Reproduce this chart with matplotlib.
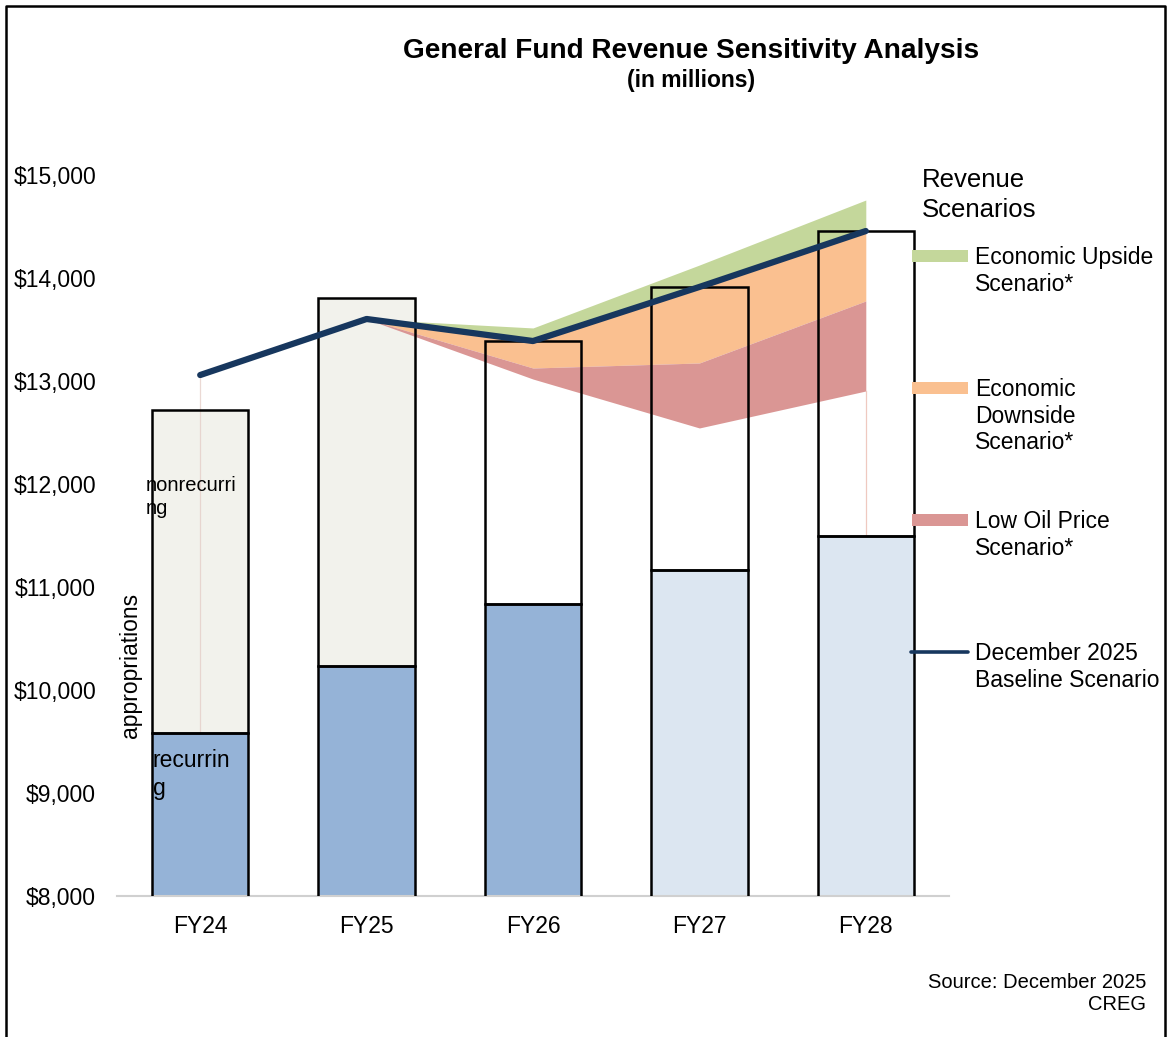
import matplotlib
matplotlib.use("Agg")
import matplotlib.pyplot as plt
from matplotlib.patches import Rectangle
from matplotlib.lines import Line2D

plt.rcParams['font.family'] = ['Liberation Sans', 'DejaVu Sans']

years = ['FY24', 'FY25', 'FY26', 'FY27', 'FY28']
recurring = [9583, 10233, 10835, 11165, 11495]
total = [12718, 13806, 13388, 13913, 14456]
baseline = [13058, 13602, 13388, 13913, 14456]

# scenario bands start at FY25
scen_years = ['FY25', 'FY26', 'FY27', 'FY28']
upside = [13602, 13515, 14126, 14757]
downside = [13602, 13126, 13175, 13777]
low_oil = [13602, 13019, 12544, 12903]

rec_colors = ['#95b3d7', '#95b3d7', '#95b3d7', '#dce6f1', '#dce6f1']
top_colors = ['#f2f2ec', '#f2f2ec', '#ffffff', '#ffffff', '#ffffff']

W, H = 1168, 1037
fig = plt.figure(figsize=(W / 100, H / 100), dpi=100)


def fx(px):
    return px / W


def fy(py):
    return 1 - py / H


ax = fig.add_axes([fx(117), fy(896), fx(949) - fx(117), fy(175) - fy(896)])

x = list(range(len(years)))
xs = [years.index(y) for y in scen_years]
nonrec = [t - r for t, r in zip(total, recurring)]

# bar fills
ax.bar(x, recurring, width=0.58, color=rec_colors, edgecolor='none', zorder=1)
ax.bar(x, nonrec, bottom=recurring, width=0.58, color=top_colors, edgecolor='none', zorder=1)

# scenario bands
ax.fill_between(xs, [baseline[i] for i in xs], upside, color='#c4d79b', lw=0, zorder=2)
ax.fill_between(xs, downside, [baseline[i] for i in xs], color='#fac090', lw=0, zorder=2)
ax.fill_between(xs, low_oil, downside, color='#da9694', lw=0, zorder=2)

# faint drop lines of the area chart
ax.plot([0, 0], [recurring[0], baseline[0]], color='#e3c9c3', lw=0.9, alpha=0.7, zorder=2.5)
ax.plot([4, 4], [recurring[4], low_oil[-1]], color='#efc9c0', lw=0.9, zorder=2.5)

# bar outlines
ax.bar(x, recurring, width=0.58, facecolor='none', edgecolor='black', lw=1.8, zorder=3)
ax.bar(x, nonrec, bottom=recurring, width=0.58, facecolor='none', edgecolor='black', lw=1.8, zorder=3)

ax.plot(x, baseline, color='#17375e', lw=4.5, solid_capstyle='round', zorder=4)

ax.set_xlim(-0.5, 4.5)
ax.set_ylim(8000, 15000)
ax.set_xticks(x)
ax.set_xticklabels(years, fontsize=16.5)
ax.set_yticks(range(8000, 15001, 1000))
ax.set_yticklabels(['${:,}'.format(v) for v in range(8000, 15001, 1000)], fontsize=16.5)
ax.tick_params(axis='both', length=0)
ax.tick_params(axis='y', pad=15)
ax.tick_params(axis='x', pad=14)
for s in ['top', 'right', 'left']:
    ax.spines[s].set_visible(False)
ax.spines['bottom'].set_color('#d0d0d0')
ax.spines['bottom'].set_linewidth(1.5)

ax.text(-0.326, 11874, 'nonrecurri\nng', fontsize=14.5, va='center', ha='left', linespacing=1.25, zorder=5)
ax.text(-0.284, 9180, 'recurrin\ng', fontsize=16.5, va='center', ha='left', linespacing=1.25, zorder=5)
ax.text(-0.42, 10243, 'appropriations', fontsize=16.5, rotation=90, va='center', ha='center', zorder=5)

# titles
fig.text(fx(691), fy(51), 'General Fund Revenue Sensitivity Analysis', fontsize=20.2, fontweight='bold',
         ha='center', va='center')
fig.text(fx(691), fy(81), '(in millions)', fontsize=16.5, fontweight='bold', ha='center', va='center')

# legend, built by hand
fig.text(fx(922), fy(168), 'Revenue\nScenarios', fontsize=18.5, ha='left', va='top', linespacing=1.3)
leg_items = [('Economic Upside\nScenario*', '#c4d79b', 256, 'patch'),
             ('Economic\nDownside\nScenario*', '#fac090', 388, 'patch'),
             ('Low Oil Price\nScenario*', '#da9694', 520, 'patch'),
             ('December 2025\nBaseline Scenario', '#17375e', 652, 'line')]
for label, col, py, kind in leg_items:
    if kind == 'patch':
        fig.add_artist(Rectangle((fx(912), fy(py + 6)), fx(968) - fx(912), fy(py - 6) - fy(py + 6),
                                 transform=fig.transFigure, color=col, lw=0))
    else:
        fig.add_artist(Line2D([fx(911), fx(968)], [fy(py), fy(py)], transform=fig.transFigure,
                              color=col, lw=2.6, solid_capstyle='round'))
    fig.text(fx(975), fy(py - 10), label, fontsize=16.5, ha='left', va='top', linespacing=1.2)

fig.text(fx(1146), fy(994), 'Source: December 2025\nCREG', fontsize=14.5, ha='right', va='center',
         linespacing=1.2)

# outer frame (left, top, right)
fig.add_artist(Line2D([fx(6), fx(6), fx(1165), fx(1165)], [0, fy(6), fy(6), 0],
                      transform=fig.transFigure, color='black', lw=1.8))

fig.savefig('out.png', dpi=100)
